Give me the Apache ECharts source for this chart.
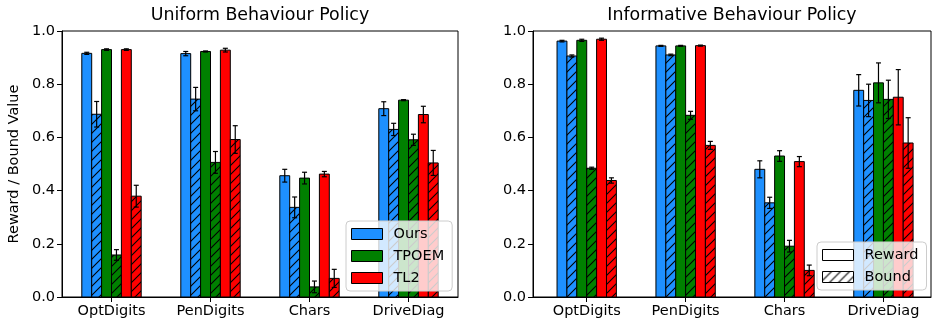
<!DOCTYPE html>
<html><head><meta charset="utf-8">
<script src="https://cdn.jsdelivr.net/npm/echarts@6/dist/echarts.min.js"></script>
<style>html,body{margin:0;padding:0;background:#fff}#c{width:933px;height:322px}</style>
</head><body><div id="c"></div>
<script>
const categories = ['OptDigits', 'PenDigits', 'Chars', 'DriveDiag'];
const methodNames = ['Ours', 'TPOEM', 'TL2'];
const kindNames = ['Reward', 'Bound'];
const panelTitles = ['Uniform Behaviour Policy', 'Informative Behaviour Policy'];
const yLabel = 'Reward / Bound Value';

// Uniform behaviour policy
const uniOursReward = [0.916, 0.915, 0.456, 0.708];
const uniOursRewardErr = [0.004, 0.008, 0.024, 0.026];
const uniOursBound = [0.687, 0.744, 0.337, 0.630];
const uniOursBoundErr = [0.048, 0.044, 0.039, 0.023];
const uniTpoemReward = [0.930, 0.923, 0.447, 0.740];
const uniTpoemRewardErr = [0.003, 0.002, 0.022, 0.002];
const uniTpoemBound = [0.158, 0.506, 0.038, 0.591];
const uniTpoemBoundErr = [0.020, 0.041, 0.022, 0.021];
const uniTl2Reward = [0.930, 0.928, 0.462, 0.686];
const uniTl2RewardErr = [0.003, 0.007, 0.010, 0.031];
const uniTl2Bound = [0.379, 0.592, 0.070, 0.504];
const uniTl2BoundErr = [0.041, 0.052, 0.034, 0.047];

// Informative behaviour policy
const infOursReward = [0.962, 0.944, 0.480, 0.777];
const infOursRewardErr = [0.003, 0.002, 0.032, 0.059];
const infOursBound = [0.906, 0.910, 0.354, 0.739];
const infOursBoundErr = [0.004, 0.003, 0.021, 0.061];
const infTpoemReward = [0.965, 0.944, 0.530, 0.805];
const infTpoemRewardErr = [0.004, 0.002, 0.020, 0.075];
const infTpoemBound = [0.484, 0.683, 0.191, 0.743];
const infTpoemBoundErr = [0.004, 0.015, 0.022, 0.072];
const infTl2Reward = [0.969, 0.945, 0.509, 0.751];
const infTl2RewardErr = [0.004, 0.002, 0.019, 0.104];
const infTl2Bound = [0.438, 0.570, 0.100, 0.579];
const infTl2BoundErr = [0.010, 0.015, 0.020, 0.095];

const FONT = 'DejaVu Sans';
const methodColors = ['#1E90FF', '#008000', '#FF0000'];
const BAR_W = 0.1;

function hatch(bg) {
  const n = 9;
  const cv = document.createElement('canvas');
  cv.width = n; cv.height = n;
  const ctx = cv.getContext('2d');
  ctx.fillStyle = bg; ctx.fillRect(0, 0, n, n);
  ctx.strokeStyle = '#000'; ctx.lineWidth = 1.1;
  ctx.beginPath();
  ctx.moveTo(-1, n + 1); ctx.lineTo(n + 1, -1);
  ctx.moveTo(-1, 1); ctx.lineTo(1, -1);
  ctx.moveTo(n - 1, n + 1); ctx.lineTo(n + 1, n - 1);
  ctx.stroke();
  return { image: cv, repeat: 'repeat' };
}

const panelData = [
  [[uniOursReward, uniOursRewardErr, uniOursBound, uniOursBoundErr],
   [uniTpoemReward, uniTpoemRewardErr, uniTpoemBound, uniTpoemBoundErr],
   [uniTl2Reward, uniTl2RewardErr, uniTl2Bound, uniTl2BoundErr]],
  [[infOursReward, infOursRewardErr, infOursBound, infOursBoundErr],
   [infTpoemReward, infTpoemRewardErr, infTpoemBound, infTpoemBoundErr],
   [infTl2Reward, infTl2RewardErr, infTl2Bound, infTl2BoundErr]]
];

function makeRender(offset, fill) {
  return function (params, api) {
    const c = api.value(0), v = api.value(1), e = api.value(2);
    const xc = c + offset;
    const p0 = api.coord([xc - BAR_W / 2, v]);
    const p1 = api.coord([xc + BAR_W / 2, 0]);
    const px = api.coord([xc, 0])[0];
    const yLo = api.coord([xc, v - e])[1];
    const yHi = api.coord([xc, v + e])[1];
    const es = { stroke: '#000', lineWidth: 1.2 };
    return {
      type: 'group',
      children: [
        { type: 'rect', shape: { x: p0[0], y: p0[1], width: p1[0] - p0[0], height: p1[1] - p0[1] },
          style: { fill: fill, stroke: '#000', lineWidth: 1 } },
        { type: 'line', shape: { x1: px, y1: yLo, x2: px, y2: yHi }, style: es },
        { type: 'line', shape: { x1: px - 2.5, y1: yLo, x2: px + 2.5, y2: yLo }, style: es },
        { type: 'line', shape: { x1: px - 2.5, y1: yHi, x2: px + 2.5, y2: yHi }, style: es }
      ]
    };
  };
}

const series = [];
panelData.forEach((methods, p) => {
  methods.forEach((arrs, m) => {
    for (let k = 0; k < 2; k++) {
      const vals = arrs[k * 2], errs = arrs[k * 2 + 1];
      const slot = m * 2 + k;
      const offset = (slot - 2.5) * BAR_W;
      const fill = k === 0 ? methodColors[m] : hatch(methodColors[m]);
      series.push({
        name: methodNames[m],
        type: 'custom',
        xAxisIndex: p, yAxisIndex: p,
        itemStyle: { color: methodColors[m], borderColor: '#000', borderWidth: 1 },
        renderItem: makeRender(offset, fill),
        encode: { x: 0, y: 1 },
        data: categories.map((_, i) => [i, vals[i], errs[i]]),
        silent: true
      });
    }
  });
});
// legend-only entries for the right panel
series.push({ name: kindNames[0], type: 'custom', xAxisIndex: 1, yAxisIndex: 1,
  itemStyle: { color: '#fff', borderColor: '#000', borderWidth: 1 },
  renderItem: () => null, data: [] });
series.push({ name: kindNames[1], type: 'custom', xAxisIndex: 1, yAxisIndex: 1,
  itemStyle: { color: hatch('#fff'), borderColor: '#000', borderWidth: 1 },
  renderItem: () => null, data: [] });

const grids = [
  { left: 62, top: 31, width: 396, height: 266 },
  { left: 533, top: 31, width: 398, height: 266 }
];
const xRanges = [[-0.5, 3.5], [-0.543, 3.481]];

function xAxis(i) {
  return {
    gridIndex: i, type: 'value', min: xRanges[i][0], max: xRanges[i][1],
    splitLine: { show: false },
    axisLine: { show: true, onZero: false, lineStyle: { color: '#000', width: 1 } },
    axisTick: { show: true, customValues: [0, 1, 2, 3], length: 5, lineStyle: { color: '#000', width: 1 } },
    axisLabel: { customValues: [0, 1, 2, 3], formatter: v => categories[Math.round(v)],
      fontSize: 14.5, fontFamily: FONT, color: '#000', margin: 7 }
  };
}
function yAxis(i) {
  const a = {
    gridIndex: i, type: 'value', min: 0, max: 1, interval: 0.2,
    splitLine: { show: false },
    axisLine: { show: true, onZero: false, lineStyle: { color: '#000', width: 1 } },
    axisTick: { show: true, length: 5, lineStyle: { color: '#000', width: 1 } },
    axisLabel: { formatter: v => v.toFixed(1), fontSize: 14.5, fontFamily: FONT, color: '#000', margin: 7 }
  };
  if (i === 0) {
    a.name = yLabel; a.nameLocation = 'middle'; a.nameGap = 40;
    a.nameTextStyle = { fontSize: 14.5, fontFamily: FONT, color: '#000' };
  }
  return a;
}

const legendBase = {
  orient: 'vertical', icon: 'rect', itemWidth: 31, itemHeight: 11, itemGap: 6,
  selectedMode: false,
  textStyle: { fontSize: 14.5, fontFamily: FONT, color: '#000', lineHeight: 16, padding: [0, 0, 0, 6] },
  backgroundColor: 'rgba(255,255,255,0.8)', borderColor: '#cccccc', borderWidth: 1, borderRadius: 4,
  itemStyle: { borderColor: '#000', borderWidth: 1 }, z: 10
};

const option = {
  animation: false,
  backgroundColor: '#fff',
  textStyle: { fontFamily: FONT },
  grid: grids.map(g => Object.assign({ show: true, borderColor: '#000', borderWidth: 1, backgroundColor: 'transparent' }, g)),
  xAxis: [xAxis(0), xAxis(1)],
  yAxis: [yAxis(0), yAxis(1)],
  legend: [
    Object.assign({}, legendBase, { data: methodNames, left: 346, top: 221, padding: [5, 8, 5, 5] }),
    Object.assign({}, legendBase, { data: kindNames, left: 817, top: 242, padding: [5, 8, 5, 5] })
  ],
  graphic: panelTitles.map((t, i) => ({
    type: 'text', x: grids[i].left + grids[i].width / 2, y: 15,
    style: { text: t, textAlign: 'center', textVerticalAlign: 'middle',
      font: '17.4px "DejaVu Sans"', fill: '#000' }
  })),
  series: series
};

const chart = echarts.init(document.getElementById('c'), null, { renderer: 'canvas' });
chart.setOption(option);
</script>
</body></html>
